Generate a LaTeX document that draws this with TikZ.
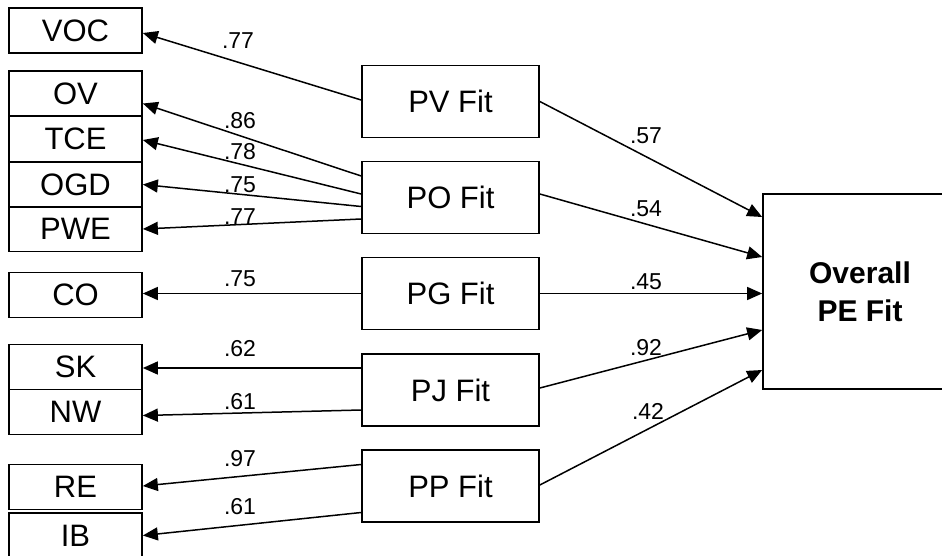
\documentclass[tikz,border=0pt]{standalone}
\usepackage{fontspec}
\setmainfont{Liberation Sans}
\usetikzlibrary{arrows.meta}

\begin{document}
\begin{tikzpicture}[x=1pt, y=-1pt,
    box/.style={draw, line width=1.7pt, minimum width=133pt, minimum height=45pt, inner sep=0pt, font=\fontsize{31}{36}\selectfont},
    fitbox/.style={draw, line width=1.7pt, minimum width=177pt, minimum height=72pt, inner sep=0pt, font=\fontsize{31}{36}\selectfont},
    wt/.style={inner sep=0pt, font=\fontsize{23}{28}\selectfont},
    link/.style={line width=1.5pt, -{Triangle[length=15pt,width=13pt]}}]
    \useasboundingbox (0,0) rectangle (942,556);

    \node[box] (voc) at (75.5,30.5) {VOC};
    \node[box] (ov)  at (75.5,93.5) {OV};
    \node[box] (tce) at (75.5,139) {TCE};
    \node[box] (ogd) at (75.5,184.5) {OGD};
    \node[box] (pwe) at (75.5,229) {PWE};
    \node[box] (co)  at (75.5,295) {CO};
    \node[box] (sk)  at (75.5,367) {SK};
    \node[box] (nw)  at (75.5,412) {NW};
    \node[box] (re)  at (75.5,487) {RE};
    \node[box] (ib)  at (75.5,535.5) {IB};

    \node[fitbox] (pv) at (450.5,101.5) {PV Fit};
    \node[fitbox] (po) at (450.5,197.5) {PO Fit};
    \node[fitbox] (pg) at (450.5,293.5) {PG Fit};
    \node[fitbox] (pj) at (450.5,390) {PJ Fit};
    \node[fitbox] (pp) at (450.5,486) {PP Fit};

    \node[draw, line width=1.7pt, minimum width=194pt, minimum height=195pt, align=center,
          font=\bfseries\fontsize{30}{38}\selectfont] (pe) at (860,291.5) {Overall\\PE Fit};

    \draw[link] ([yshift=1.5pt]pv.west) -- ([yshift=-2.5pt]voc.east);
    \draw[link] ([yshift=21.5pt]po.west) -- ([yshift=-10pt]ov.east);
    \draw[link] ([yshift=3.5pt]po.west) -- ([yshift=-1pt]tce.east);
    \draw[link] ([yshift=-9pt]po.west) -- (ogd.east);
    \draw[link] ([yshift=-21.5pt]po.west) -- (pwe.east);
    \draw[link] (pg.west) -- (pg.west -| co.east);
    \draw[link] ([yshift=22pt]pj.west) -- ([yshift=-1pt]sk.east);
    \draw[link] ([yshift=-20pt]pj.west) -- ([yshift=-3.5pt]nw.east);
    \draw[link] ([yshift=21.5pt]pp.west) -- ([yshift=1pt]re.east);
    \draw[link] ([yshift=-26.5pt]pp.west) -- (ib.east);

    \draw[link] (pv.east) -- ([yshift=74.5pt]pe.west);
    \draw[link] ([yshift=3.5pt]po.east) -- ([yshift=34.5pt]pe.west);
    \draw[link] (pg.east) -- (pg.east -| pe.west);
    \draw[link] ([yshift=2pt]pj.east) -- ([yshift=-38.5pt]pe.west);
    \draw[link] ([yshift=1pt]pp.east) -- ([yshift=-78.5pt]pe.west);

    \node[wt] (w1)  at (238,40.5) {.77};
    \node[wt] (w2)  at (240,121) {.86};
    \node[wt] (w3)  at (240,152) {.78};
    \node[wt] (w4)  at (240,185) {.75};
    \node[wt] (w5)  at (240,217) {.77};
    \node[wt] (w6)  at (240,279) {.75};
    \node[wt] (w7)  at (240,349) {.62};
    \node[wt] (w8)  at (240,402) {.61};
    \node[wt] (w9)  at (240,459) {.97};
    \node[wt] (w10) at (240,507) {.61};

    \node[wt] (w11) at (646,136) {.57};
    \node[wt] (w12) at (646,209) {.54};
    \node[wt] (w13) at (646,282) {.45};
    \node[wt] (w14) at (646,348) {.92};
    \node[wt] (w15) at (648,411) {.42};
\end{tikzpicture}
\end{document}
